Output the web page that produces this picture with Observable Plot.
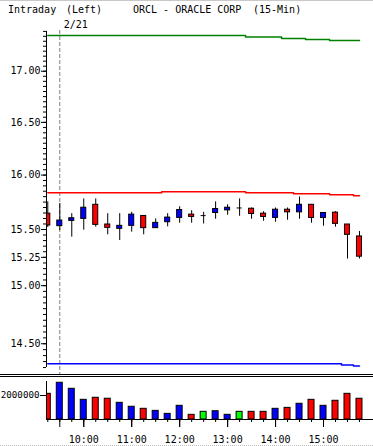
<!DOCTYPE html>
<html><head><meta charset="utf-8">
<script src="https://cdn.jsdelivr.net/npm/d3@7"></script>
<script src="https://cdn.jsdelivr.net/npm/@observablehq/plot@0.6"></script>
<style>
body{margin:0;background:#fff;}
#wrap{position:relative;width:373px;height:446px;overflow:hidden;background:#fff;font-family:"DejaVu Sans Mono",monospace;font-size:10px;color:#000;}
.t{position:absolute;top:4px;line-height:12px;white-space:pre;}
.hl{position:absolute;left:0;width:373px;height:1px;background:#000;z-index:5;}
#wrap svg{position:absolute;left:0;}
</style></head><body><div id="wrap">
<div class="hl" style="top:0;background:#c8c8c8"></div>
<div class="t" style="left:8px">Intraday</div>
<div class="t" style="left:66px">(Left)</div>
<div class="t" style="left:133px">ORCL - ORACLE CORP</div>
<div class="t" style="left:253px">(15-Min)</div>
<div class="hl" style="top:374px"></div>
<div class="hl" style="top:376px"></div>
<div class="hl" style="top:445px;background:none;border-top:1px dotted #c0c0c0;height:0"></div>
</div>
<script>
// 15-minute slots: last bar of 2/20, then 2/21 session
const slots = ["15:45","9:30","9:45","10:00","10:15","10:30","10:45","11:00","11:15","11:30","11:45","12:00","12:15","12:30","12:45","13:00","13:15","13:30","13:45","14:00","14:15","14:30","14:45","15:00","15:15","15:30","15:45"];
const dayStartSlot = 1;
const dayLabel = "2/21";
const hourSlots = [3,7,11,15,19,23];

const openP  = [15.644,15.530,15.578,15.596,15.725,15.545,15.506,15.533,15.623,15.512,15.566,15.605,15.635,15.626,15.650,15.674,15.696,15.689,15.644,15.605,15.680,15.656,15.725,15.605,15.653,15.545,15.437];
const closeP = [15.536,15.581,15.602,15.698,15.542,15.515,15.533,15.635,15.512,15.560,15.608,15.677,15.614,15.626,15.686,15.698,15.696,15.641,15.614,15.680,15.656,15.725,15.605,15.650,15.551,15.452,15.256];
const highP  = [15.752,15.737,15.644,15.779,15.779,15.644,15.644,15.656,15.623,15.596,15.644,15.707,15.671,15.656,15.752,15.725,15.779,15.696,15.662,15.696,15.696,15.797,15.725,15.650,15.662,15.545,15.482];
const lowP   = [15.518,15.491,15.431,15.494,15.521,15.452,15.401,15.476,15.452,15.512,15.524,15.557,15.557,15.550,15.593,15.629,15.620,15.593,15.575,15.566,15.584,15.593,15.557,15.530,15.521,15.235,15.235];
const volume = [2140000,3060000,2560000,1640000,1810000,1730000,1390000,1060000,890000,720000,470000,1140000,390000,640000,690000,390000,640000,640000,640000,890000,970000,1310000,1640000,1140000,1560000,2140000,1730000];

const greenLine = [17.358,17.358,17.358,17.358,17.358,17.358,17.358,17.358,17.358,17.358,17.358,17.358,17.358,17.358,17.358,17.358,17.358,17.343,17.343,17.343,17.327,17.327,17.318,17.318,17.307,17.307,17.307];
const redLine   = [15.836,15.836,15.836,15.836,15.836,15.836,15.836,15.836,15.836,15.836,15.845,15.845,15.845,15.845,15.845,15.845,15.845,15.836,15.836,15.836,15.836,15.826,15.826,15.826,15.817,15.817,15.808];
const blueLine  = [14.332,14.332,14.332,14.332,14.332,14.332,14.332,14.332,14.332,14.332,14.332,14.332,14.332,14.332,14.332,14.332,14.332,14.332,14.332,14.332,14.332,14.332,14.332,14.332,14.332,14.322,14.313];

const priceLabels = [17.00,16.50,16.00,15.50,15.25,15.00,14.50];
const priceMinorStep = 0.05;
const priceAxisExtent = [14.30, 17.40];
const priceDomain = [14.242, 17.409];
const volumeLabels = [2000000];
const volumeDomain = [0, 3166667];
const xDomain = [-0.108, 27.17];

const UP = "#0000ff", DOWN = "#ff0000", FLAT = "#00ff00";
const bars = slots.map((t, i) => ({
  i, t, open: openP[i], close: closeP[i], high: highP[i], low: lowP[i], vol: volume[i],
  green: greenLine[i], red: redLine[i], blue: blueLine[i],
  color: closeP[i] > openP[i] ? UP : closeP[i] < openP[i] ? DOWN : FLAT
}));
const bodies = bars.filter(d => d.open !== d.close);
const dojis = bars.filter(d => d.open === d.close);
const minorTicks = d3.range(Math.round(priceAxisExtent[0] / priceMinorStep), Math.round(priceAxisExtent[1] / priceMinorStep) + 1).map(k => +(k * priceMinorStep).toFixed(2));

const fontStyle = {fontFamily: "DejaVu Sans Mono, monospace", fontSize: "10px", color: "#000", background: "transparent", overflow: "visible"};
const bw = 0.21, vw = 0.25;

const price = Plot.plot({
  width: 373, height: 374,
  marginLeft: 46, marginRight: 0, marginTop: 30, marginBottom: 0,
  style: fontStyle,
  x: {domain: xDomain, axis: null},
  y: {type: "log", domain: priceDomain},
  color: {type: "identity"},
  marks: [
    Plot.ruleX([dayStartSlot], {stroke: "#808080", strokeDasharray: "4,2"}),
    Plot.text([{i: dayStartSlot, label: dayLabel}], {x: "i", text: "label", frameAnchor: "top", lineAnchor: "bottom", textAnchor: "start", dx: 4, dy: -3, fill: "#000"}),
    Plot.line(bars, {x: "i", y: "green", stroke: "#008000", curve: "step"}),
    Plot.line(bars, {x: "i", y: "red", stroke: "#ff0000", curve: "step"}),
    Plot.line(bars, {x: "i", y: "blue", stroke: "#0000ff", curve: "step"}),
    Plot.ruleX(bars, {x: "i", y1: "low", y2: "high", stroke: "#000", clip: true}),
    Plot.rect(bodies, {x1: d => d.i - bw, x2: d => d.i + bw, y1: "open", y2: "close", fill: "color", stroke: "#000", clip: true}),
    Plot.ruleY(dojis, {x1: d => d.i - bw, x2: d => d.i + bw, y: "open", stroke: "#000", clip: true}),
    Plot.ruleX([xDomain[0]], {y1: priceAxisExtent[0], y2: priceAxisExtent[1], stroke: "#000"}),
    Plot.axisY({ticks: minorTicks, tickSize: 3, tickFormat: () => "", label: null}),
    Plot.axisY({ticks: priceLabels, tickSize: 5, tickPadding: 1, tickFormat: d3.format(".2f"), label: null})
  ]
});
price.style.top = "0px";

const vol = Plot.plot({
  width: 373, height: 69,
  marginLeft: 46, marginRight: 0, marginTop: 4, marginBottom: 27,
  style: fontStyle,
  x: {domain: xDomain},
  y: {domain: volumeDomain},
  color: {type: "identity"},
  marks: [
    Plot.rect(bars, {x1: d => d.i - vw, x2: d => d.i + vw, y1: 0, y2: "vol", fill: "color", stroke: "#000", clip: true}),
    Plot.ruleX([xDomain[0]], {stroke: "#000"}),
    Plot.ruleY([0], {stroke: "#000"}),
    Plot.axisY({ticks: volumeLabels, tickSize: 6, tickPadding: 1, fontSize: 9.2, tickFormat: d => String(d), label: null}),
    Plot.axisX({ticks: bars.map(d => d.i), tickSize: 3, tickFormat: () => "", label: null}),
    Plot.axisX({ticks: [dayStartSlot, ...hourSlots], tickSize: 8, tickFormat: () => "", label: null}),
    Plot.axisX({ticks: hourSlots, tickSize: 8, tickPadding: 8, tickFormat: i => slots[i], label: null})
  ]
});
vol.style.top = "377px";

const wrap = document.getElementById("wrap");
wrap.appendChild(price);
wrap.appendChild(vol);
</script>
</body></html>
